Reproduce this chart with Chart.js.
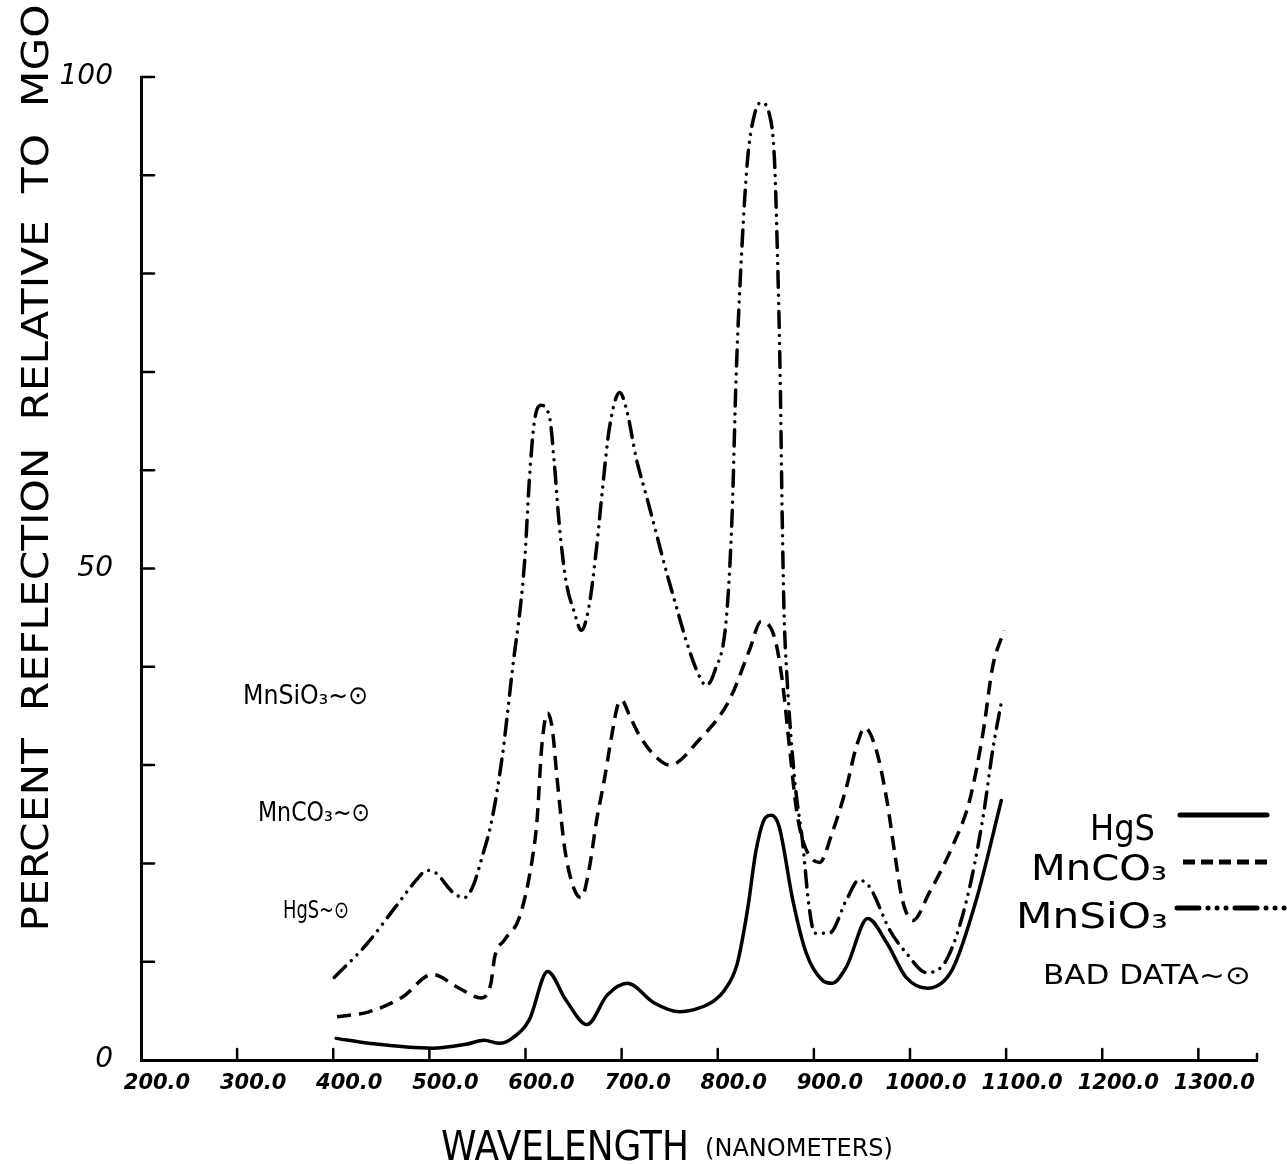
<!DOCTYPE html>
<html><head><meta charset="utf-8">
<script src="https://cdn.jsdelivr.net/npm/chart.js@4.4.1/dist/chart.umd.min.js"></script>
<style>html,body{margin:0;padding:0;background:#fff}canvas{display:block}</style>
</head><body>
<canvas id="c" width="1287" height="1164"></canvas>
<script>
// ---- tick values / labels ----
const xTickValues = [200,300,400,500,600,700,800,900,1000,1100,1200,1300];
const yTickValues = [0,10,20,30,40,50,60,70,80,90,100];
const yLabelledValues = [0,50,100];

// ---- series ----
const seriesNames = ['HgS', 'MnCO\u2083', 'MnSiO\u2083'];

const hgsWavelength = [403,437,503,538,557,573,586,604,623,642,664,685,706,734,760,781,797,807,820,831,840,850,856,864,878,892,909,919,934,956,976,996,1018,1044,1069,1095];
const hgsReflection = [2.2,1.7,1.2,1.6,2.0,1.7,2.2,4.1,9.0,6.1,3.6,6.6,7.8,5.8,4.9,5.3,6.1,7.1,9.7,15.3,21.4,24.7,24.9,23.7,16.3,10.9,8.1,7.8,9.5,14.4,11.9,8.4,7.3,9.2,16.3,26.4];

const mnco3Wavelength = [404,437,472,503,531,554,564,568,578,594,607,612,617,623,628,633,641,651,658,666,674,682,689,696,700,708,718,734,750,781,812,833,845,859,867,875,882,890,906,919,934,944,953,965,976,984,992,1003,1020,1044,1062,1076,1086,1098];
const mnco3Reflection = [4.4,4.9,6.4,8.7,7.3,6.3,7.8,10.5,12.2,14.6,20.4,24.4,32.0,35.3,33.6,28.5,21.4,17.3,16.5,19.3,24.4,28.5,32.6,36.1,36.6,35.1,33.1,31.0,30.0,32.6,36.6,41.7,44.6,43.0,38.7,31.5,25.4,21.9,20.1,23.1,27.8,31.8,33.8,31.5,26.4,21.1,16.3,14.2,17.0,21.7,26.4,33.3,40.0,43.7];

const mnsio3Wavelength = [401,434,465,489,497,507,524,536,545,555,565,576,586,599,604,609,616,625,630,635,642,651,658,666,674,680,687,698,706,715,726,736,747,757,767,781,788,797,809,815,819,825,831,838,845,854,859,862,865,867,869,872,880,888,895,901,916,934,947,958,979,996,1017,1038,1059,1076,1086,1096];
const mnsio3Reflection = [8.4,11.7,15.6,18.6,19.3,19.0,17.1,16.5,17.6,20.7,24.4,31.0,39.4,50.6,59.0,64.8,66.6,65.4,60.7,54.6,48.8,45.5,43.7,46.1,52.2,58.0,64.1,67.9,65.8,61.3,57.3,53.6,49.5,46.1,42.7,39.0,38.1,39.6,45.0,55.6,69.2,82.4,91.6,96.1,97.4,96.1,91.6,82.4,69.2,55.6,45.5,39.0,28.5,22.4,15.6,12.9,12.9,16.3,18.3,17.6,13.2,10.9,8.9,10.2,16.3,24.7,31.5,36.9];

// ---- texts ----
const badDataNotes = ['MnSiO\u2083~\u2299', 'MnCO\u2083~\u2299', 'HgS~\u2299'];
const legendNote = 'BAD DATA~\u2299';
const xTitleMain = 'WAVELENGTH';
const xTitleSub = '(NANOMETERS)';
const yTitle = 'PERCENT  REFLECTION  RELATIVE  TO  MGO';

const pts = (xs, ys) => xs.map((x, i) => ({x: x, y: ys[i]}));

function fitText(ctx, text, x, y, width, align) {
  const w = ctx.measureText(text).width;
  const s = width / w;
  ctx.save();
  ctx.translate(x, y);
  ctx.scale(s, 1);
  ctx.textAlign = align || 'left';
  ctx.fillText(text, 0, 0);
  ctx.restore();
}

const inkPlugin = {
  id: 'ink',
  afterDraw(chart) {
    const ctx = chart.ctx;
    const xs = chart.scales.x, ys = chart.scales.y;
    ctx.save();
    ctx.strokeStyle = '#000';
    ctx.fillStyle = '#000';
    ctx.lineCap = 'round';
    ctx.lineWidth = 2.5;
    // inward y ticks
    yTickValues.forEach(v => {
      if (v === 0) return;
      const py = ys.getPixelForValue(v);
      ctx.beginPath(); ctx.moveTo(xs.left, py); ctx.lineTo(xs.left + 13, py); ctx.stroke();
    });
    // inward x ticks
    xTickValues.forEach(v => {
      if (v === xTickValues[0]) return;
      const px = xs.getPixelForValue(v);
      ctx.beginPath(); ctx.moveTo(px, ys.bottom); ctx.lineTo(px, ys.bottom - 11); ctx.stroke();
    });
    // right end upturn of x axis
    ctx.beginPath(); ctx.moveTo(xs.right, ys.bottom); ctx.lineTo(xs.right, ys.bottom - 6); ctx.stroke();

    // y title
    ctx.save();
    ctx.translate(38, 468);
    ctx.rotate(-Math.PI / 2);
    ctx.font = '38px "DejaVu Sans"';
    ctx.textBaseline = 'middle';
    fitText(ctx, yTitle, 0, 0, 927, 'center');
    ctx.restore();

    // x title
    ctx.textBaseline = 'alphabetic';
    ctx.font = '40px "DejaVu Sans"';
    fitText(ctx, xTitleMain, 441, 1160, 248, 'left');
    ctx.font = '24px "DejaVu Sans"';
    fitText(ctx, xTitleSub, 705, 1156, 188, 'left');

    // bad data notes
    ctx.font = '26px "DejaVu Sans"';
    fitText(ctx, badDataNotes[0], 243, 704, 125, 'left');
    fitText(ctx, badDataNotes[1], 258, 821, 112, 'left');
    ctx.font = '24px "DejaVu Sans"';
    fitText(ctx, badDataNotes[2], 283, 918, 66, 'left');

    // legend texts
    ctx.font = '36px "DejaVu Sans"';
    fitText(ctx, seriesNames[0], 1090, 840, 65, 'left');
    fitText(ctx, seriesNames[1], 1031, 880, 136, 'left');
    fitText(ctx, seriesNames[2], 1016, 928, 152, 'left');
    ctx.font = '26px "DejaVu Sans"';
    fitText(ctx, legendNote, 1043, 984, 208, 'left');

    // legend samples using dataset styles
    const samples = [[1180, 1267, 815], [1183, 1273, 862], [1177, 1285, 908]];
    chart.data.datasets.forEach((ds, i) => {
      const s = samples[i];
      ctx.save();
      ctx.lineWidth = 5;
      ctx.lineCap = ds.borderCapStyle || 'butt';
      ctx.setLineDash(ds.legendDash || []);
      ctx.beginPath(); ctx.moveTo(s[0], s[2]); ctx.lineTo(s[1], s[2]); ctx.stroke();
      ctx.restore();
    });
    ctx.restore();
  }
};

const common = {borderColor: '#000', backgroundColor: '#000', borderWidth: 3.5, pointRadius: 0, fill: false, cubicInterpolationMode: 'monotone'};

new Chart(document.getElementById('c').getContext('2d'), {
  type: 'line',
  data: {
    datasets: [
      Object.assign({label: seriesNames[0], data: pts(hgsWavelength, hgsReflection), borderCapStyle: 'round'}, common),
      Object.assign({label: seriesNames[1], data: pts(mnco3Wavelength, mnco3Reflection), borderDash: [14, 8], legendDash: [12, 6]}, common),
      Object.assign({label: seriesNames[2], data: pts(mnsio3Wavelength, mnsio3Reflection), borderDash: [16, 8, 0.01, 8, 0.01, 8], borderCapStyle: 'round', legendDash: [22, 9, 0.01, 9, 0.01, 9, 0.01, 9]}, common)
    ]
  },
  options: {
    responsive: false,
    animation: false,
    devicePixelRatio: 1,
    layout: {padding: {top: 77, right: 30, left: 0, bottom: 0}},
    plugins: {legend: {display: false}, tooltip: {enabled: false}},
    scales: {
      x: {
        type: 'linear', min: 200, max: 1361,
        afterFit(s) { s.height = 104; },
        afterBuildTicks(s) { s.ticks = xTickValues.map(v => ({value: v})); },
        grid: {display: true, drawOnChartArea: false, drawTicks: false, color: 'rgba(0,0,0,0)'},
        border: {display: true, color: '#000', width: 3},
        ticks: {color: '#000', padding: 11, labelOffset: 16, maxRotation: 0, autoSkip: false,
          font: {family: '"DejaVu Sans"', size: 21, style: 'italic', weight: 'bold'},
          callback: v => Number(v).toFixed(1)}
      },
      y: {
        min: 0, max: 100,
        afterFit(s) { s.width = 141; },
        afterBuildTicks(s) { s.ticks = yTickValues.map(v => ({value: v})); },
        grid: {display: true, drawOnChartArea: false, drawTicks: false, color: 'rgba(0,0,0,0)'},
        border: {display: true, color: '#000', width: 3},
        ticks: {color: '#000', padding: 28, autoSkip: false,
          font: {family: '"DejaVu Sans"', size: 28, style: 'italic'},
          callback: v => yLabelledValues.includes(v) ? String(v) : ''}
      }
    }
  },
  plugins: [inkPlugin]
});
</script>
</body></html>
